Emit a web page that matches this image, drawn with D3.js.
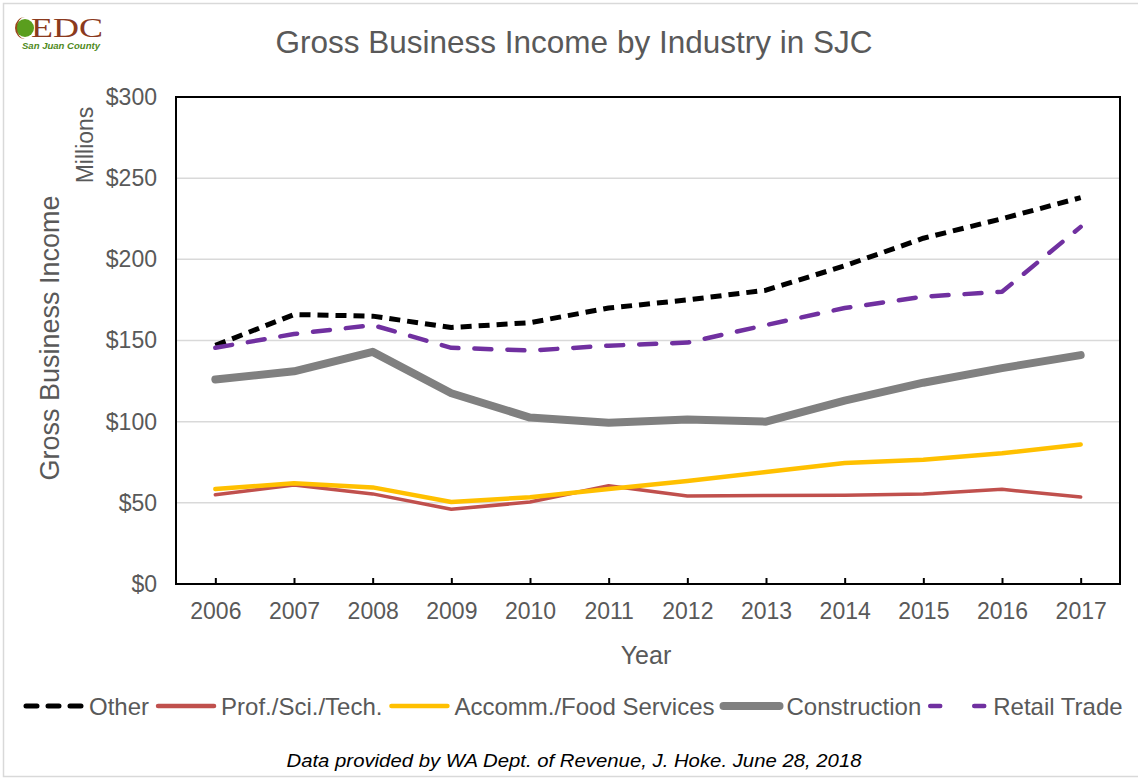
<html>
<head>
  <meta charset="utf-8">
  <title>Gross Business Income by Industry in SJC</title>
  <style>
    body {
      margin: 0;
      padding: 0;
      background: white;
      font-family: "Liberation Sans", Arial, sans-serif;
    }
    .grid line {
      stroke: #d9d9d9;
      stroke-width: 1.5px;
    }
    .axis text {
      fill: #595959;
      font-size: 23px;
    }
    .series {
      fill: none;
      stroke-linejoin: round;
    }
  </style>
</head>
<body>
  <div id="chart"></div>

  <script src="https://d3js.org/d3.v7.min.js"></script>
  <script>
    // data (millions of dollars)
    var years = ["2006", "2007", "2008", "2009", "2010", "2011", "2012", "2013", "2014", "2015", "2016", "2017"];
    var other = [147, 166, 165, 158, 161, 170, 175, 181, 196, 213, 225, 238];
    var prof = [55, 61, 55.5, 46, 50.5, 60.5, 54.2, 54.5, 54.6, 55.5, 58.3, 53.6];
    var accomm = [58.5, 62, 59.5, 50.5, 53.5, 58.5, 63.5, 69, 74.5, 76.5, 80.5, 86];
    var construction = [126, 131, 143, 117.5, 102.5, 99.3, 101.3, 100, 113, 124, 133, 141];
    var retail = [145.5, 154, 159.5, 145.5, 143.8, 146.8, 148.7, 159.5, 170, 177, 180, 220];
    var yTicks = [0, 50, 100, 150, 200, 250, 300];

    var series = [
      { name: "Other", values: other, color: "#000000", width: 5, dash: "11,7", cap: "butt", legendDash: "11,11" },
      { name: "Prof./Sci./Tech.", values: prof, color: "#c0504d", width: 3.5, dash: null, cap: "round", legendDash: null },
      { name: "Accomm./Food Services", values: accomm, color: "#ffc000", width: 4.5, dash: null, cap: "round", legendDash: null },
      { name: "Construction", values: construction, color: "#808080", width: 8, dash: null, cap: "round", legendDash: null },
      { name: "Retail Trade", values: retail, color: "#7030a0", width: 4.5, dash: "17,16", cap: "round", legendDash: "10,34" }
    ];

    var width = 1138,
      height = 778;

    var svg = d3.select("#chart")
      .append("svg")
      .attr("width", width)
      .attr("height", height);

    // light frame round the picture
    svg.append("rect")
      .attr("x", 3.5)
      .attr("y", 3.5)
      .attr("width", width + 10)
      .attr("height", height - 5)
      .attr("fill", "none")
      .attr("stroke", "#d9d9d9")
      .attr("stroke-width", 1.5);

    var plot = { left: 176, right: 1120, top: 97, bottom: 584 };

    var x = d3.scalePoint()
      .domain(years)
      .range([plot.left, plot.right])
      .padding(0.5);

    var y = d3.scaleLinear()
      .domain([0, 300])
      .range([plot.bottom, plot.top]);

    // gridlines
    svg.append("g")
      .attr("class", "grid")
      .selectAll("line")
      .data(yTicks.slice(1, -1))
      .enter()
      .append("line")
      .attr("x1", plot.left)
      .attr("x2", plot.right)
      .attr("y1", function(d) { return y(d); })
      .attr("y2", function(d) { return y(d); });

    // axes
    var yAxis = svg.append("g")
      .attr("class", "axis")
      .attr("transform", "translate(" + plot.left + ",0)")
      .call(d3.axisLeft(y).tickValues(yTicks).tickSize(0).tickPadding(19).tickFormat(function(d) { return "$" + d; }));
    yAxis.select(".domain").remove();

    var xAxis = svg.append("g")
      .attr("class", "axis")
      .attr("transform", "translate(0," + plot.bottom + ")")
      .call(d3.axisBottom(x).tickSizeInner(-6).tickSizeOuter(0).tickPadding(19));
    xAxis.select(".domain").remove();
    xAxis.selectAll(".tick line").attr("stroke", "#000").attr("stroke-width", 2);

    // plot box
    svg.append("rect")
      .attr("x", plot.left)
      .attr("y", plot.top)
      .attr("width", plot.right - plot.left)
      .attr("height", plot.bottom - plot.top)
      .attr("fill", "none")
      .attr("stroke", "#000")
      .attr("stroke-width", 2);

    // lines
    var line = d3.line()
      .x(function(d, i) { return x(years[i]); })
      .y(function(d) { return y(d); });

    svg.append("g")
      .selectAll("path")
      .data(series)
      .enter()
      .append("path")
      .attr("class", "series")
      .attr("d", function(d) { return line(d.values); })
      .attr("stroke", function(d) { return d.color; })
      .attr("stroke-width", function(d) { return d.width; })
      .attr("stroke-dasharray", function(d) { return d.dash; })
      .attr("stroke-linecap", function(d) { return d.cap; });

    // titles
    svg.append("text")
      .attr("x", 574)
      .attr("y", 53)
      .attr("text-anchor", "middle")
      .attr("fill", "#595959")
      .attr("font-size", 31.5)
      .text("Gross Business Income by Industry in SJC");

    svg.append("text")
      .attr("transform", "translate(59,338) rotate(-90)")
      .attr("text-anchor", "middle")
      .attr("fill", "#595959")
      .attr("font-size", 27)
      .text("Gross Business Income");

    svg.append("text")
      .attr("transform", "translate(93,145) rotate(-90)")
      .attr("text-anchor", "middle")
      .attr("fill", "#595959")
      .attr("font-size", 23)
      .text("Millions");

    svg.append("text")
      .attr("x", 646)
      .attr("y", 664)
      .attr("text-anchor", "middle")
      .attr("fill", "#595959")
      .attr("font-size", 25)
      .text("Year");

    // legend
    var legend = svg.append("g");
    var lx = 20;
    series.forEach(function(s) {
      legend.append("line")
        .attr("x1", lx + 6)
        .attr("x2", lx + 62)
        .attr("y1", 706)
        .attr("y2", 706)
        .attr("stroke", s.color)
        .attr("stroke-width", Math.max(s.width, 4.5))
        .attr("stroke-dasharray", s.legendDash)
        .attr("stroke-linecap", "round");
      var t = legend.append("text")
        .attr("x", lx + 69)
        .attr("y", 715)
        .attr("fill", "#595959")
        .attr("font-size", 24)
        .text(s.name);
      lx = lx + 69 + t.node().getComputedTextLength() + 3;
    });

    // source note
    svg.append("text")
      .attr("x", 574)
      .attr("y", 767)
      .attr("text-anchor", "middle")
      .attr("font-size", 19)
      .attr("font-style", "italic")
      .attr("textLength", 575)
      .attr("lengthAdjust", "spacingAndGlyphs")
      .text("Data provided by WA Dept. of Revenue, J. Hoke. June 28, 2018");

    // logo
    var logo = svg.append("g");
    logo.append("circle")
      .attr("cx", 25)
      .attr("cy", 28)
      .attr("r", 9)
      .attr("fill", "#5a9e1e");
    logo.append("path")
      .attr("d", "M25,17 A10,11 0 1,0 25,39 A8,11 0 1,1 25,17 Z")
      .attr("fill", "#9a4a1c");
    logo.append("text")
      .attr("x", 31)
      .attr("y", 37)
      .attr("font-family", "Liberation Serif, serif")
      .attr("font-size", 27)
      .attr("fill", "#8b3a1e")
      .attr("textLength", 72)
      .attr("lengthAdjust", "spacingAndGlyphs")
      .text("EDC");
    logo.append("text")
      .attr("x", 22)
      .attr("y", 49)
      .attr("font-size", 9)
      .attr("font-weight", "bold")
      .attr("font-style", "italic")
      .attr("fill", "#4f8a1c")
      .attr("textLength", 78)
      .attr("lengthAdjust", "spacingAndGlyphs")
      .text("San Juan County");
  </script>
</body>
</html>
